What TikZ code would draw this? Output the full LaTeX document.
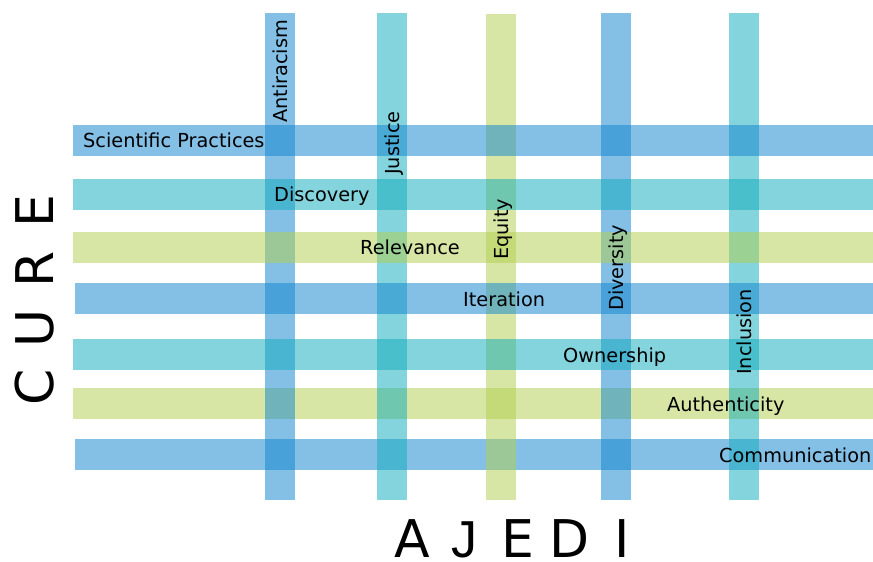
\documentclass[tikz,border=0pt]{standalone}
\usepackage{fontspec}
\setmainfont{DejaVu Sans}
\newfontfamily\jfont{Liberation Sans}
\definecolor{barblue}{RGB}{19,133,207}
\definecolor{barteal}{RGB}{19,172,189}
\definecolor{bargreen}{RGB}{179,207,81}
\newcommand{\cellA}[1]{\makebox[52.5pt]{#1}}
\newcommand{\cellC}[1]{\makebox[59pt]{#1}}
\begin{document}
\begin{tikzpicture}[x=1pt,y=-1pt,
    bar/.style={fill opacity=0.52},
    lbl/.style={inner sep=0pt,font=\fontsize{19.3}{22}\selectfont},
    hlbl/.style={lbl,anchor=base west},
    vlbl/.style={lbl,anchor=base west,rotate=90},
    big/.style={inner sep=0pt,font=\fontsize{52}{60}\selectfont}]

    \useasboundingbox (0,0) rectangle (873,562);

    % lower CURE bars (under the columns)
    \fill[bar,bargreen] (73,388) rectangle (873,419);
    \fill[bar,barblue]  (75,439) rectangle (873,470);

    % AJEDI bars
    \fill[bar,barblue]  (265,13) rectangle (295,500);
    \fill[bar,barteal]  (377,13) rectangle (407,500);
    \fill[bar,bargreen] (486,14) rectangle (516,500);
    \fill[bar,barblue]  (601,13) rectangle (631,500);
    \fill[bar,barteal]  (729,13) rectangle (759,500);

    % upper CURE bars
    \fill[bar,barblue]  (73,125) rectangle (873,156);
    \fill[bar,barteal]  (73,179) rectangle (873,210);
    \fill[bar,bargreen] (73,232) rectangle (873,263);
    \fill[bar,barblue]  (75,283) rectangle (873,314);
    \fill[bar,barteal]  (73,339) rectangle (873,370);

    % CURE labels
    \node[hlbl] (sci) at (83,147) {Scientific Practices};
    \node[hlbl] (dis) at (274,201) {Discovery};
    \node[hlbl] (rel) at (360,254) {Relevance};
    \node[hlbl] (ite) at (463,306) {Iteration};
    \node[hlbl] (own) at (563,362) {Ownership};
    \node[hlbl] (aut) at (667,411) {Authenticity};
    \node[hlbl] (com) at (719,462) {Communication};

    % AJEDI labels
    \node[vlbl] (ant) at (287,123) {Antiracism};
    \node[vlbl] (jus) at (399,175) {Justice};
    \node[vlbl] (equ) at (508,260) {Equity};
    \node[vlbl] (div) at (623,311) {Diversity};
    \node[vlbl] (inc) at (751,375) {Inclusion};

    % axis titles
    \node[big,anchor=base west,rotate=90] (cure) at (53,417.5)
        {\cellC{C}\cellC{U}\cellC{R}\cellC{E}};
    \node[big,anchor=base west] (ajedi) at (386,557)
        {\cellA{A}\cellA{{\jfont J}}\cellA{E}\cellA{D}\cellA{I}};

\end{tikzpicture}
\end{document}
